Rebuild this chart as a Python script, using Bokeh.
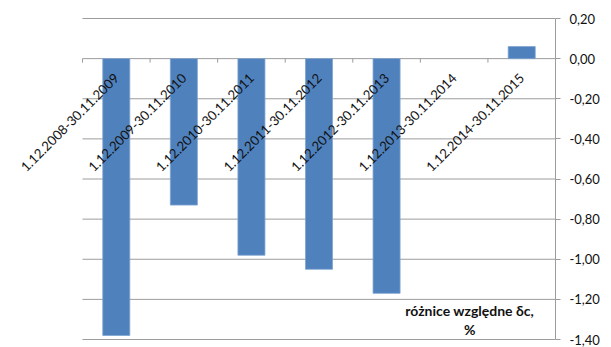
import numpy as np
from bokeh.plotting import figure
from bokeh.models import Range1d, LinearAxis, FixedTicker, CustomJSTickFormatter, ColumnDataSource
from bokeh.core.properties import value
from bokeh.embed import file_html
from bokeh.resources import INLINE

# Relative differences per yearly period (no value for 2013-2014)
periods = [
    "1.12.2008-30.11.2009",
    "1.12.2009-30.11.2010",
    "1.12.2010-30.11.2011",
    "1.12.2011-30.11.2012",
    "1.12.2012-30.11.2013",
    "1.12.2013-30.11.2014",
    "1.12.2014-30.11.2015",
]
diffs = [-1.38, -0.73, -0.98, -1.05, -1.17, None, 0.06]
y_ticks = [-1.4, -1.2, -1.0, -0.8, -0.6, -0.4, -0.2, 0.0, 0.2]
series_lines = ["różnice względne δc,", "%"]

FONT = "Lato"
BAR = "#4F81BD"
GRID = "#9C9C9C"
TEXT = "#111111"

W, H = 611, 347
AREA_LEFT, AREA_RIGHT = 82, 555      # category area in pixels
AREA_TOP, AREA_BOTTOM = 18, 339      # value area in pixels
PAD = 1                              # extra pixel so edge gridlines are not clipped

n = len(periods)
centers = np.arange(n) + 0.5
ymin, ymax = min(y_ticks), max(y_ticks)

# the frame starts at the left edge so the rotated labels are not clipped;
# the x range is widened so the categories still occupy their own area
cat_px = (AREA_RIGHT - AREA_LEFT) / n
x_start = -AREA_LEFT / cat_px
unit_px = (AREA_BOTTOM - AREA_TOP) / (ymax - ymin)
dpad = PAD / unit_px

p = figure(
    width=W, height=H,
    x_range=Range1d(x_start, n), y_range=Range1d(ymin - dpad, ymax + dpad),
    x_axis_location=None, y_axis_location=None,
    toolbar_location=None, output_backend="svg",
    min_border_left=0, min_border_right=W - AREA_RIGHT,
    min_border_top=AREA_TOP - PAD, min_border_bottom=H - AREA_BOTTOM - PAD,
)
p.outline_line_color = None
p.background_fill_color = "white"
p.border_fill_color = "white"
p.xgrid.visible = False
p.ygrid.visible = False

# horizontal gridlines across the category area only
p.segment(x0=[0] * len(y_ticks), y0=y_ticks, x1=[n] * len(y_ticks), y1=y_ticks,
          line_color=GRID, line_width=1)

# value axis on the right
yaxis = LinearAxis(
    ticker=FixedTicker(ticks=y_ticks),
    bounds=(ymin, ymax),
    formatter=CustomJSTickFormatter(code="""
        const v = Math.abs(tick) < 1e-9 ? 0 : tick;
        return v.toFixed(2).replace('.', ',');
    """),
)
yaxis.axis_line_color = GRID
yaxis.major_tick_line_color = GRID
yaxis.major_tick_in = 0
yaxis.major_tick_out = 5
yaxis.minor_tick_line_color = None
yaxis.major_label_standoff = 9
yaxis.major_label_text_font = FONT
yaxis.major_label_text_font_size = "13px"
yaxis.major_label_text_color = TEXT
p.add_layout(yaxis, "right")

# bars
mask = [d is not None for d in diffs]
src = ColumnDataSource(dict(
    x=[c for c, m in zip(centers, mask) if m],
    top=[d for d in diffs if d is not None],
))
p.vbar(x="x", top="top", bottom=0, width=0.4, source=src,
       fill_color=BAR, line_color="#7FA3D0", line_width=0.8)

# category tick marks hanging below the zero line
bounds = np.arange(n)
p.segment(x0=bounds, y0=[0] * n, x1=bounds, y1=[-4 / unit_px] * n,
          line_color=GRID, line_width=1)

# rotated category labels ending at each category centre
p.text(x=centers, y=[0] * n, text=periods, angle=np.pi / 4,
       text_align="right", text_baseline="middle",
       x_offset=0, y_offset=17,
       text_font=value(FONT), text_font_size="13.2px", text_color=TEXT)

# series name, two lines
p.text(x=[5.73, 5.73], y=[-1.253, -1.35], text=series_lines,
       text_align="center", text_baseline="middle",
       text_font=value(FONT), text_font_size="14px", text_font_style="bold",
       text_color=TEXT)

open("out.html", "w").write(file_html(p, INLINE))
